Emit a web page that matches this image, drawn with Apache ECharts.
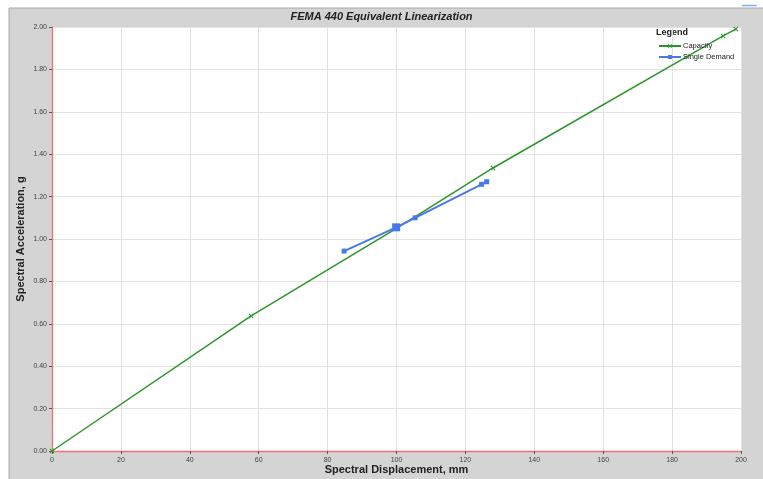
<!DOCTYPE html>
<html><head><meta charset="utf-8">
<script src="https://cdn.jsdelivr.net/npm/echarts@6/dist/echarts.min.js"></script>
<style>html,body{margin:0;padding:0;background:#fff;overflow:hidden}#c{width:763px;height:479px}</style>
</head><body><div id="c"></div>
<script>
const capacityX = [0, 57.8, 100, 128.0, 194.8, 198.5];
const capacityY = [0, 0.637, 1.05, 1.335, 1.958, 1.99];
const demandX = [84.8, 99.9, 105.4, 124.7, 126.2];
const demandY = [0.943, 1.055, 1.10, 1.258, 1.27];
const demandSizes = [5, 8, 5, 5, 5];
const xTicks = [0, 20, 40, 60, 80, 100, 120, 140, 160, 180, 200];
const yTicks = [0, 0.2, 0.4, 0.6, 0.8, 1.0, 1.2, 1.4, 1.6, 1.8, 2.0];

const chart = echarts.init(document.getElementById('c'));
const xPath = 'path://M0,1.5L1.5,0L5,3.5L8.5,0L10,1.5L6.5,5L10,8.5L8.5,10L5,6.5L1.5,10L0,8.5L3.5,5Z';
const axisCommon = {
  axisLine: {show: true, onZero: false, lineStyle: {color: '#f07070', width: 1.3}},
  axisTick: {show: true, inside: false, length: 3, lineStyle: {color: '#555'}},
  splitLine: {show: true, showMinLine: false, lineStyle: {color: '#e2e2e2', width: 1}},
  axisLabel: {fontSize: 7, color: '#444', fontFamily: 'Liberation Sans'},
  nameTextStyle: {fontSize: 11, fontWeight: 'bold', color: '#222', fontFamily: 'Liberation Sans'},
  nameMoveOverlap: false
};
chart.setOption({
  animation: false,
  backgroundColor: '#fff',
  graphic: [
    {type: 'rect', z: -10, shape: {x: 9, y: 8, width: 760, height: 500}, style: {fill: '#d4d4d4', stroke: '#a8a8a8', lineWidth: 1}},
    {type: 'line', z: -9, shape: {x1: 742, y1: 5.5, x2: 757, y2: 5.5}, style: {stroke: '#7fb0ef', lineWidth: 1.5}},
    {type: 'text', left: 656, top: 28, style: {text: 'Legend', fontSize: 9, fontWeight: 'bold', fill: '#222', fontFamily: 'Liberation Sans'}}
  ],
  title: {
    text: 'FEMA 440 Equivalent Linearization', left: 'center', top: 6, padding: 5,
    textStyle: {fontSize: 11, fontWeight: 'bold', fontStyle: 'italic', color: '#222', fontFamily: 'Liberation Sans'}
  },
  legend: {
    orient: 'vertical', left: 653, top: 37, itemWidth: 22, itemHeight: 5, itemGap: 3,
    textStyle: {fontSize: 7.5, color: '#222', fontFamily: 'Liberation Sans', padding: [0, 0, 0, -3]},
    data: ['Capacity', 'Single Demand']
  },
  grid: {left: 52, right: 22, top: 27, bottom: 28, outerBoundsMode: 'none', containLabel: false,
         backgroundColor: '#fff', show: true, borderWidth: 0},
  xAxis: Object.assign({}, axisCommon, {
    type: 'value', min: xTicks[0], max: xTicks[xTicks.length - 1], interval: 20,
    name: 'Spectral Displacement, mm', nameLocation: 'middle', nameGap: 13,
    axisLabel: Object.assign({}, axisCommon.axisLabel, {margin: 6})
  }),
  yAxis: Object.assign({}, axisCommon, {
    type: 'value', min: yTicks[0], max: yTicks[yTicks.length - 1], interval: 0.2,
    name: 'Spectral Acceleration, g', nameLocation: 'middle', nameGap: 26,
    axisLabel: Object.assign({}, axisCommon.axisLabel, {margin: 5, formatter: v => v.toFixed(2)})
  }),
  series: [
    {
      name: 'Capacity', type: 'line', data: capacityX.map((x, i) => [x, capacityY[i]]),
      lineStyle: {color: '#2a962a', width: 1.5}, itemStyle: {color: '#2a962a'},
      symbol: xPath, symbolSize: 5, showSymbol: true, z: 2
    },
    {
      name: 'Single Demand', type: 'line', data: demandX.map((x, i) => ({value: [x, demandY[i]], symbolSize: demandSizes[i]})),
      lineStyle: {color: '#4a78e8', width: 2}, itemStyle: {color: '#4a78e8'},
      symbol: 'rect', symbolSize: 5, showSymbol: true, z: 3
    }
  ]
});
</script></body></html>
